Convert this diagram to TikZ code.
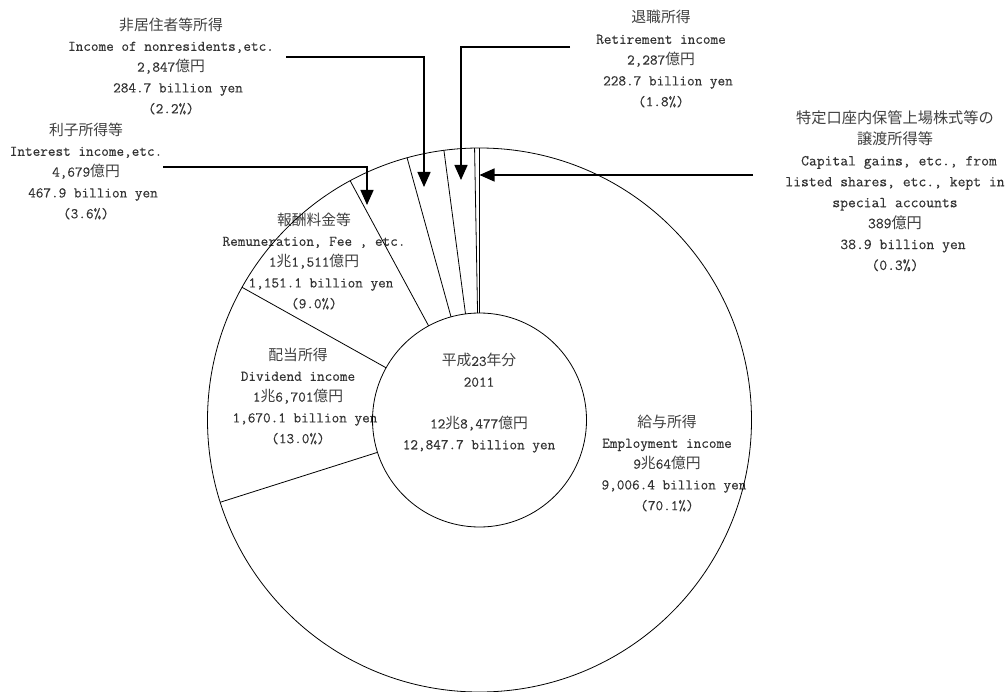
\documentclass[tikz,border=0pt]{standalone}
\usepackage{fontspec}
\setmonofont{Latin Modern Mono}[FakeBold=0.35]
\newfontfamily\jpfont{Noto Sans CJK JP}
\usetikzlibrary{arrows.meta}
\newcommand\J[1]{{\jpfont\color{black!75}#1}}
\tikzset{
  lbl/.style={align=center, font=\ttfamily\fontsize{14.8}{20.8}\selectfont, text=black!80, inner sep=0pt},
  slice/.style={line width=0.8pt},
  callout/.style={line width=1.5pt, -{Triangle[length=15pt,width=13pt]}},
}
\begin{document}
\begin{tikzpicture}[x=1pt,y=-1pt]
\useasboundingbox (0,0) rectangle (1008,692);
\coordinate (C) at (479.5,420);
% labels
\node[lbl] (nr) at (171,66) {\J{非居住者等所得}\\Income of nonresidents,etc.\\2,847\J{億円}\\\hspace*{14pt}284.7 billion yen\\(2.2\%)};
\node[lbl] (ret) at (661,59) {\J{退職所得}\\Retirement income\\2,287\J{億円}\\\hspace*{14pt}228.7 billion yen\\(1.8\%)};
\node[lbl, font=\ttfamily\fontsize{15.2}{20.9}\selectfont] (cap) at (895,191) {\J{特定口座内保管上場株式等の}\\\J{譲渡所得等}\\\hspace*{8pt}Capital gains, etc., from\\listed shares, etc., kept in\\special accounts\\389\J{億円}\\\hspace*{16pt}38.9 billion yen\\(0.3\%)};
\node[lbl] (int) at (86,171) {\J{利子所得等}\\Interest income,etc.\\4,679\J{億円}\\\hspace*{14pt}467.9 billion yen\\(3.6\%)};
\node[lbl] (rem) at (314,261) {\J{報酬料金等}\\Remuneration, Fee , etc.\\1\J{兆}1,511\J{億円}\\\hspace*{14pt}1,151.1 billion yen\\(9.0\%)};
\node[lbl] (div) at (298,396) {\J{配当所得}\\Dividend income\\1\J{兆}6,701\J{億円}\\\hspace*{14pt}1,670.1 billion yen\\(13.0\%)};
\node[lbl] (emp) at (667,463) {\J{給与所得}\\Employment income\\9\J{兆}64\J{億円}\\\hspace*{14pt}9,006.4 billion yen\\(70.1\%)};
\node[lbl] (tot) at (479,403) {\J{平成}23\J{年分}\\2011\\[21pt]12\J{兆}8,477\J{億円}\\12,847.7 billion yen};
% chart
\draw[slice] (C) circle (272pt);
\draw[slice] (C) circle (107pt);
\foreach \a in {90,91.04,97.52,105.44,118.4,150.8,197.6}
  \draw[slice] ([shift={(\a:107pt)}]C) -- ([shift={(\a:272pt)}]C);
% callouts
\coordinate (nrS) at (286,57);   \coordinate (nrT) at (424,187);
\coordinate (retS) at (570,47);  \coordinate (retT) at (461,180);
\coordinate (capS) at (753,175); \coordinate (capT) at (479.5,175);
\coordinate (intS) at (163,167); \coordinate (intT) at (367,205);
\draw[callout] (nrS) -| (nrT);
\draw[callout] (retS) -| (retT);
\draw[callout] (capS) -- (capT);
\draw[callout] (intS) -| (intT);
\end{tikzpicture}
\end{document}
